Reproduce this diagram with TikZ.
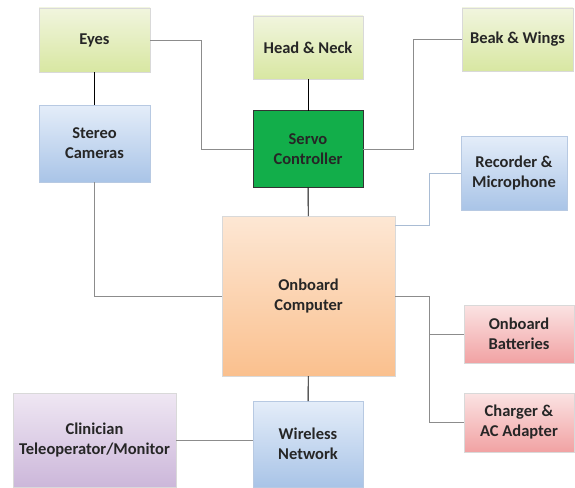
\documentclass[tikz,border=0pt]{standalone}
\usepackage{fontspec}
\setsansfont{Carlito}
\usepackage{tikz}
\usetikzlibrary{calc,positioning}
\definecolor{textgray}{HTML}{262626}
\definecolor{linkgray}{HTML}{8C8C8C}
\definecolor{linkblue}{HTML}{A9BCD4}
\definecolor{servogreen}{HTML}{12AE4A}
\definecolor{olivetop}{HTML}{F1F5DE}
\definecolor{olivebottom}{HTML}{D8E7A2}
\definecolor{skyedge}{HTML}{B7C9E2}
\definecolor{skytop}{HTML}{E4EDF9}
\definecolor{skybottom}{HTML}{A9C4E7}
\definecolor{peachtop}{HTML}{FDE7D4}
\definecolor{peachbottom}{HTML}{FAC08E}
\definecolor{rosetop}{HTML}{FBE3E3}
\definecolor{rosebottom}{HTML}{F1A2A3}
\definecolor{lilactop}{HTML}{EFE7F3}
\definecolor{lilacbottom}{HTML}{CCB7DA}
\tikzstyle{element}=[
  draw=black!15,
  font={\sffamily\bfseries\fontsize{16.5}{20}\selectfont},
  text=textgray,
  inner sep=0pt,
  outer sep=0pt,
  rectangle,
  align=center,
  thin,
]
\tikzstyle{olive}=[element, top color=olivetop, bottom color=olivebottom]
\tikzstyle{sky}=[element, draw=skyedge, top color=skytop, bottom color=skybottom]
\tikzstyle{peach}=[element, top color=peachtop, bottom color=peachbottom]
\tikzstyle{rose}=[element, top color=rosetop, bottom color=rosebottom]
\tikzstyle{lilac}=[element, top color=lilactop, bottom color=lilacbottom]
\tikzstyle{link}=[
  color=linkgray,
  draw=linkgray,
  line width=0.9pt,
]
\tikzstyle{bus}=[
  draw=black,
  line width=0.9pt,
]
\begin{document}
\begin{tikzpicture}[x=1pt,y=-1pt]
      \useasboundingbox [fill=white] (0,0) rectangle (575,487);
      % servo side
      \node (eyes) [olive, minimum width=111pt, minimum height=64pt] at (94.5,40) {Eyes};
      \node (stereo) [sky, minimum width=111pt, minimum height=77pt] at (94.5,143.5) {Stereo\\Cameras};
      \node (head) [olive, minimum width=110pt, minimum height=63pt] at (308,47.5) {Head \& Neck};
      \node (servo) [element, draw=black!80, fill=servogreen, minimum width=110pt, minimum height=77pt] at (308,149) {Servo\\Controller};
      \node (beak) [olive, minimum width=111pt, minimum height=63pt] at (517.5,39.5) {Beak \& Wings};
      % computer side
      \node (recorder) [sky, minimum width=106pt, minimum height=74pt] at (514,173) {Recorder \&\\Microphone};
      \node (computer) [peach, minimum width=173pt, minimum height=160pt] at (308.5,296) {Onboard\\Computer};
      \node (batteries) [rose, minimum width=110pt, minimum height=58pt] at (519,334) {Onboard\\Batteries};
      \node (charger) [rose, minimum width=110pt, minimum height=59pt] at (519,422.5) {Charger \&\\AC Adapter};
      \node (wireless) [sky, minimum width=110pt, minimum height=86pt] at (308,444) {Wireless\\Network};
      \node (clinician) [lilac, minimum width=163pt, minimum height=94pt] at (94.5,440) {Clinician\\Teleoperator/Monitor};
      \draw [bus] (eyes) -- (stereo);
      \draw [bus] (head) -- (servo);
      \draw [bus] (servo) -- (computer);
      \draw [bus] (wireless) -- (computer);
      \draw [link] (eyes.east) -- ++(51,0) |- (servo.west);
      \draw [link] (servo.east) -- ++(50,0) |- (beak.west);
      \draw [link] (stereo.south) |- (computer.west);
      \draw [link, draw=linkblue] (recorder.west) -- ++(-32,0) |- ([yshift=-9pt]computer.north east);
      \draw [link] (computer.east) -- ++(34,0) |- (batteries.west);
      \draw [link] (computer.east) -- ++(34,0) |- (charger.west);
      \draw [link] (clinician.east) -- (clinician.east -| wireless.west);
    \end{tikzpicture}
\end{document}
